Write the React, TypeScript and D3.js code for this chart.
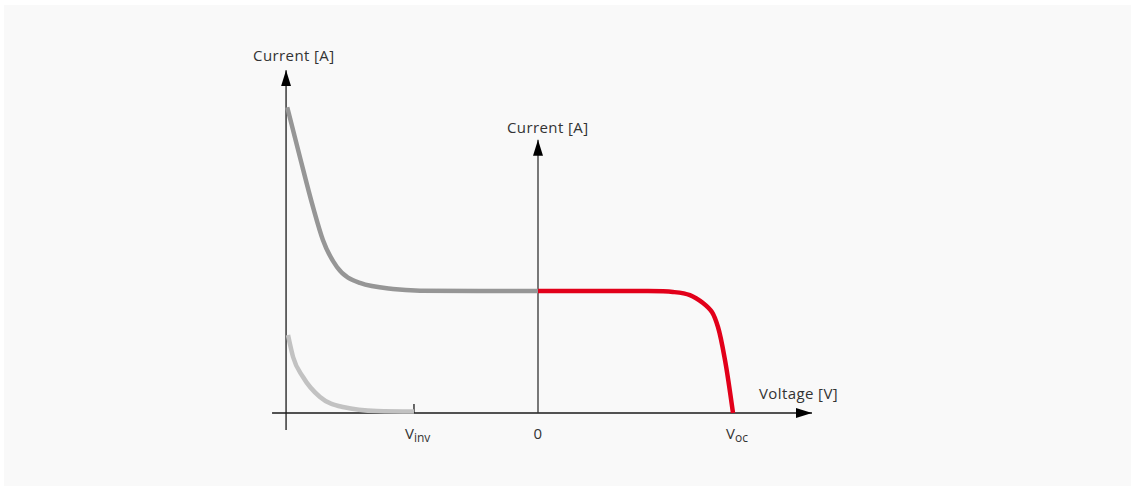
import { useEffect, useRef } from 'react';
import * as d3 from 'd3';

// voltage / current in arbitrary units: Voc = 1, Isc = 1
const V_AXIS_MIN = -1.292;
const V_AXIS_MAX = 1.405;
const V_INV = -0.636;
const V_OC = 1.0;

const reverseV = [-1.286, -1.221, -1.154, -1.103, -1.031, -0.913, -0.744, -0.605, -0.3, 0];
const reverseI = [2.506, 2.098, 1.689, 1.418, 1.197, 1.066, 1.016, 1.003, 1.0, 1.0];

const forwardV = [0, 0.3, 0.523, 0.692, 0.779, 0.846, 0.892, 0.923, 0.959, 1.0];
const forwardI = [1.0, 1.0, 1.0, 0.992, 0.967, 0.902, 0.828, 0.705, 0.434, 0];

const lowV = [-1.282, -1.256, -1.205, -1.118, -1.0, -0.826, -0.636];
const lowI = [0.639, 0.459, 0.295, 0.131, 0.049, 0.016, 0.012];

const FONT = '"Open Sans", "Noto Sans", sans-serif';

export default function App() {
  const ref = useRef<SVGSVGElement>(null);

  useEffect(() => {
    const svg = d3.select(ref.current);
    svg.selectAll('*').remove();

    const x = d3.scaleLinear().domain([0, 1]).range([538, 733]);
    const y = d3.scaleLinear().domain([0, 1]).range([413, 291]);

    svg.append('rect').attr('x', 4).attr('y', 5).attr('width', 1127).attr('height', 481).attr('fill', '#f9f9f9');

    const defs = svg.append('defs');
    defs.append('marker').attr('id', 'arrow').attr('viewBox', '0 0 16 10')
      .attr('refX', 16).attr('refY', 5).attr('markerWidth', 16).attr('markerHeight', 10)
      .attr('markerUnits', 'userSpaceOnUse').attr('orient', 'auto')
      .append('path').attr('d', 'M0,0 L16,5 L0,10 Z').attr('fill', '#000');

    const axisColor = '#1a1a1a';
    // horizontal axis
    svg.append('line').attr('x1', x(V_AXIS_MIN) - 14).attr('x2', x(V_AXIS_MAX))
      .attr('y1', y(0)).attr('y2', y(0)).attr('stroke', axisColor).attr('stroke-width', 1.3)
      .attr('marker-end', 'url(#arrow)');
    // left current axis
    svg.append('line').attr('x1', x(V_AXIS_MIN)).attr('x2', x(V_AXIS_MIN))
      .attr('y1', y(0) + 17).attr('y2', y(2.81)).attr('stroke', axisColor).attr('stroke-width', 1.3)
      .attr('marker-end', 'url(#arrow)');
    // centre current axis
    svg.append('line').attr('x1', x(0)).attr('x2', x(0))
      .attr('y1', y(0)).attr('y2', y(2.24)).attr('stroke', '#333').attr('stroke-width', 1.3)
      .attr('marker-end', 'url(#arrow)');
    // Vinv tick
    svg.append('line').attr('x1', x(V_INV)).attr('x2', x(V_INV))
      .attr('y1', y(0) - 9).attr('y2', y(0)).attr('stroke', axisColor).attr('stroke-width', 1.3);

    const lineMono = d3.line<[number, number]>().x(d => x(d[0])).y(d => y(d[1])).curve(d3.curveMonotoneX);
    const lineCR = d3.line<[number, number]>().x(d => x(d[0])).y(d => y(d[1])).curve(d3.curveCatmullRom.alpha(0.5));

    const draw = (vs: number[], is: number[], color: string, gen: typeof lineMono) => {
      svg.append('path').datum(vs.map((v, i) => [v, is[i]] as [number, number]))
        .attr('d', gen).attr('fill', 'none').attr('stroke', color)
        .attr('stroke-width', 4.5).attr('stroke-linejoin', 'round');
    };
    draw(lowV, lowI, '#c2c2c2', lineMono);
    draw(reverseV, reverseI, '#969696', lineMono);
    draw(forwardV, forwardI, '#e2001a', lineCR);

    const text = (tx: number, ty: number, s: string, anchor = 'start') =>
      svg.append('text').attr('x', tx).attr('y', ty).attr('text-anchor', anchor)
        .attr('font-family', FONT).attr('font-size', 15).attr('letter-spacing', 0.4)
        .attr('fill', '#333').text(s);

    text(x(V_AXIS_MIN) - 33, 61, 'Current [A]');
    text(x(0) - 31, 133, 'Current [A]');
    text(759, 399, 'Voltage [V]');
    text(x(0), 439, '0', 'middle');

    const sub = (tx: number, main: string, s: string) => {
      const t = svg.append('text').attr('x', tx).attr('y', 439)
        .attr('font-family', FONT).attr('font-size', 15).attr('fill', '#333');
      t.append('tspan').text(main);
      t.append('tspan').attr('dy', 3).attr('font-size', 12).text(s);
    };
    sub(x(V_INV) - 9, 'V', 'inv');
    sub(x(V_OC) - 7, 'V', 'oc');
  }, []);

  return (
    <svg ref={ref} width={1140} height={490}
      style={{ position: 'absolute', left: 0, top: 0, background: '#fff' }} />
  );
}
